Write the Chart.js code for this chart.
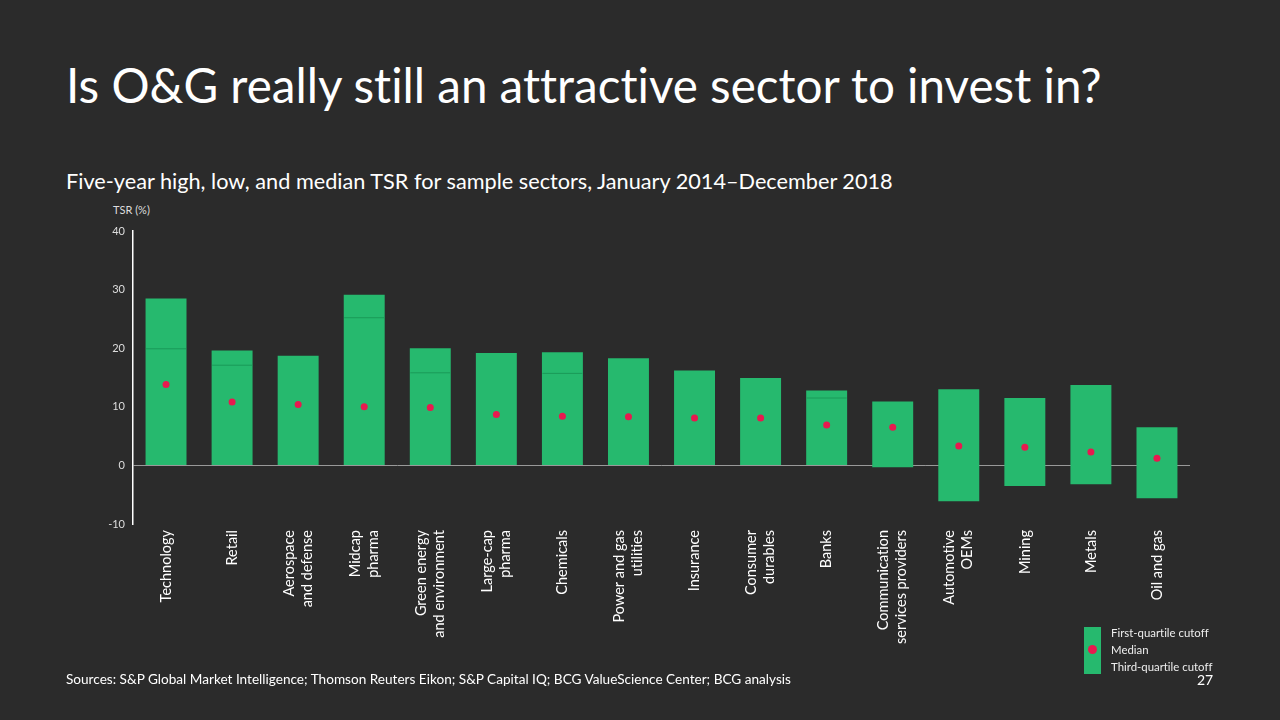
<!DOCTYPE html>
<html>
<head>
<meta charset="utf-8">
<script src="https://cdn.jsdelivr.net/npm/chart.js@4"></script>
<style>
  html, body { margin: 0; padding: 0; background: #2b2b2b; }
  body { width: 1280px; height: 720px; position: relative; overflow: hidden; font-family: Lato, "Open Sans", sans-serif; color: #fff; font-variant-ligatures: none; }
  #chart { position: absolute; left: 0; top: 0; width: 1280px; height: 720px; }
  .title { position: absolute; left: 66px; top: 61px; font-size: 47.6px; line-height: 1; white-space: nowrap; }
  .subtitle { position: absolute; left: 66px; top: 171px; font-size: 21.7px; line-height: 1; white-space: nowrap; }
  .unit { position: absolute; left: 113px; top: 204px; font-size: 11px; line-height: 1; color: #ddd; }
  .sources { position: absolute; left: 66px; top: 673px; font-size: 13.6px; line-height: 1; white-space: nowrap; }
  .page { position: absolute; left: 1197px; top: 673px; font-size: 14px; line-height: 1; }
  .lg-box { position: absolute; left: 1084px; top: 627px; width: 17px; height: 47px; background: #26b96e; }
  .lg-dot { position: absolute; left: 1088px; top: 645px; width: 9px; height: 9px; border-radius: 50%; background: #e8194f; }
  .lg-text { position: absolute; left: 1111px; font-size: 11.4px; line-height: 1; color: #eee; white-space: nowrap; }
</style>
</head>
<body>
<div class="title">Is O&amp;G really still an attractive sector to invest in?</div>
<div class="subtitle">Five-year high, low, and median TSR for sample sectors, January 2014–December 2018</div>
<div class="unit">TSR (%)</div>
<canvas id="chart" width="1280" height="720"></canvas>
<div class="lg-box"></div>
<div class="lg-dot"></div>
<div class="lg-text" style="top:627px">First-quartile cutoff</div>
<div class="lg-text" style="top:644px">Median</div>
<div class="lg-text" style="top:661px">Third-quartile cutoff</div>
<div class="sources">Sources: S&amp;P Global Market Intelligence; Thomson Reuters Eikon; S&amp;P Capital IQ; BCG ValueScience Center; BCG analysis</div>
<div class="page">27</div>
<script>
// sectors, sorted by median TSR
const sectors = [
    'Technology', 'Retail', ['Aerospace', 'and defense'], ['Midcap', 'pharma'],
    ['Green energy', 'and environment'], ['Large-cap', 'pharma'], 'Chemicals',
    ['Power and gas', 'utilities'], 'Insurance', ['Consumer', 'durables'], 'Banks',
    ['Communication', 'services providers'], ['Automotive', 'OEMs'], 'Mining', 'Metals', 'Oil and gas'
];
const lowTSR    = [0, 0, 0, 0, 0, 0, 0, 0, 0, 0, 0, -0.3, -6.1, -3.5, -3.2, -5.6];
const highTSR   = [28.5, 19.6, 18.7, 29.1, 20.0, 19.2, 19.3, 18.3, 16.2, 14.9, 12.8, 10.9, 13.0, 11.5, 13.7, 6.5];
const medianTSR = [13.8, 10.8, 10.4, 10.0, 9.9, 8.7, 8.4, 8.3, 8.1, 8.1, 6.9, 6.5, 3.3, 3.1, 2.3, 1.2];
const innerLine = [19.9, 17.1, null, 25.2, 15.8, null, 15.7, null, null, null, 11.5, null, null, null, null, null];
const yTicks = [-10, 0, 10, 20, 30, 40];

const green = '#26b96e';
const red = '#e8194f';
const txtFont = 'Lato, "Open Sans", sans-serif';

// vertical category labels, multi-line blocks centred on the tick
const xLabels = {
    id: 'xLabels',
    afterDraw(chart) {
        const ctx = chart.ctx;
        const x = chart.scales.x;
        const lineH = 18;
        ctx.save();
        ctx.fillStyle = '#fff';
        ctx.font = '14.5px ' + txtFont;
        ctx.textAlign = 'right';
        ctx.textBaseline = 'middle';
        sectors.forEach((lab, i) => {
            const lines = [].concat(lab);
            const px = x.getPixelForTick(i);
            lines.forEach((ln, j) => {
                ctx.save();
                ctx.translate(px + (j - (lines.length - 1) / 2) * lineH, x.top + 6);
                ctx.rotate(-Math.PI / 2);
                ctx.fillText(ln, 0, 0);
                ctx.restore();
            });
        });
        ctx.restore();
    }
};

new Chart(document.getElementById('chart'), {
    data: {
        labels: sectors,
        datasets: [
            {
                type: 'line',
                data: medianTSR,
                showLine: false,
                pointRadius: 3.5,
                pointBackgroundColor: red,
                pointBorderWidth: 0,
                order: 0
            },
            {
                type: 'line',
                data: innerLine,
                showLine: false,
                pointStyle: 'line',
                pointRadius: 20,
                pointBorderColor: '#1a9a58',
                pointBorderWidth: 1,
                order: 1
            },
            {
                type: 'bar',
                data: sectors.map((s, i) => [lowTSR[i], highTSR[i]]),
                backgroundColor: green,
                borderWidth: 0,
                barPercentage: 0.62,
                categoryPercentage: 1,
                order: 2
            }
        ]
    },
    plugins: [xLabels],
    options: {
        responsive: false,
        animation: false,
        layout: { padding: { left: 93, right: 90, top: 231, bottom: 70 } },
        plugins: { legend: { display: false }, tooltip: { enabled: false } },
        scales: {
            x: {
                grid: { display: false },
                border: { display: false },
                afterFit: (s) => { s.height = 126; },
                ticks: { display: false }
            },
            y: {
                min: -10,
                max: 40,
                afterBuildTicks: (s) => { s.ticks = yTicks.map(v => ({ value: v })); },
                afterFit: (s) => { s.width = 40; },
                border: { display: true, color: '#fff', width: 1.5 },
                grid: {
                    drawTicks: false,
                    color: (c) => c.tick && c.tick.value === 0 ? '#999' : 'transparent',
                    lineWidth: 1
                },
                ticks: {
                    color: '#ddd',
                    font: { family: txtFont, size: 11 },
                    padding: 8
                }
            }
        }
    }
});
</script>
</body>
</html>
